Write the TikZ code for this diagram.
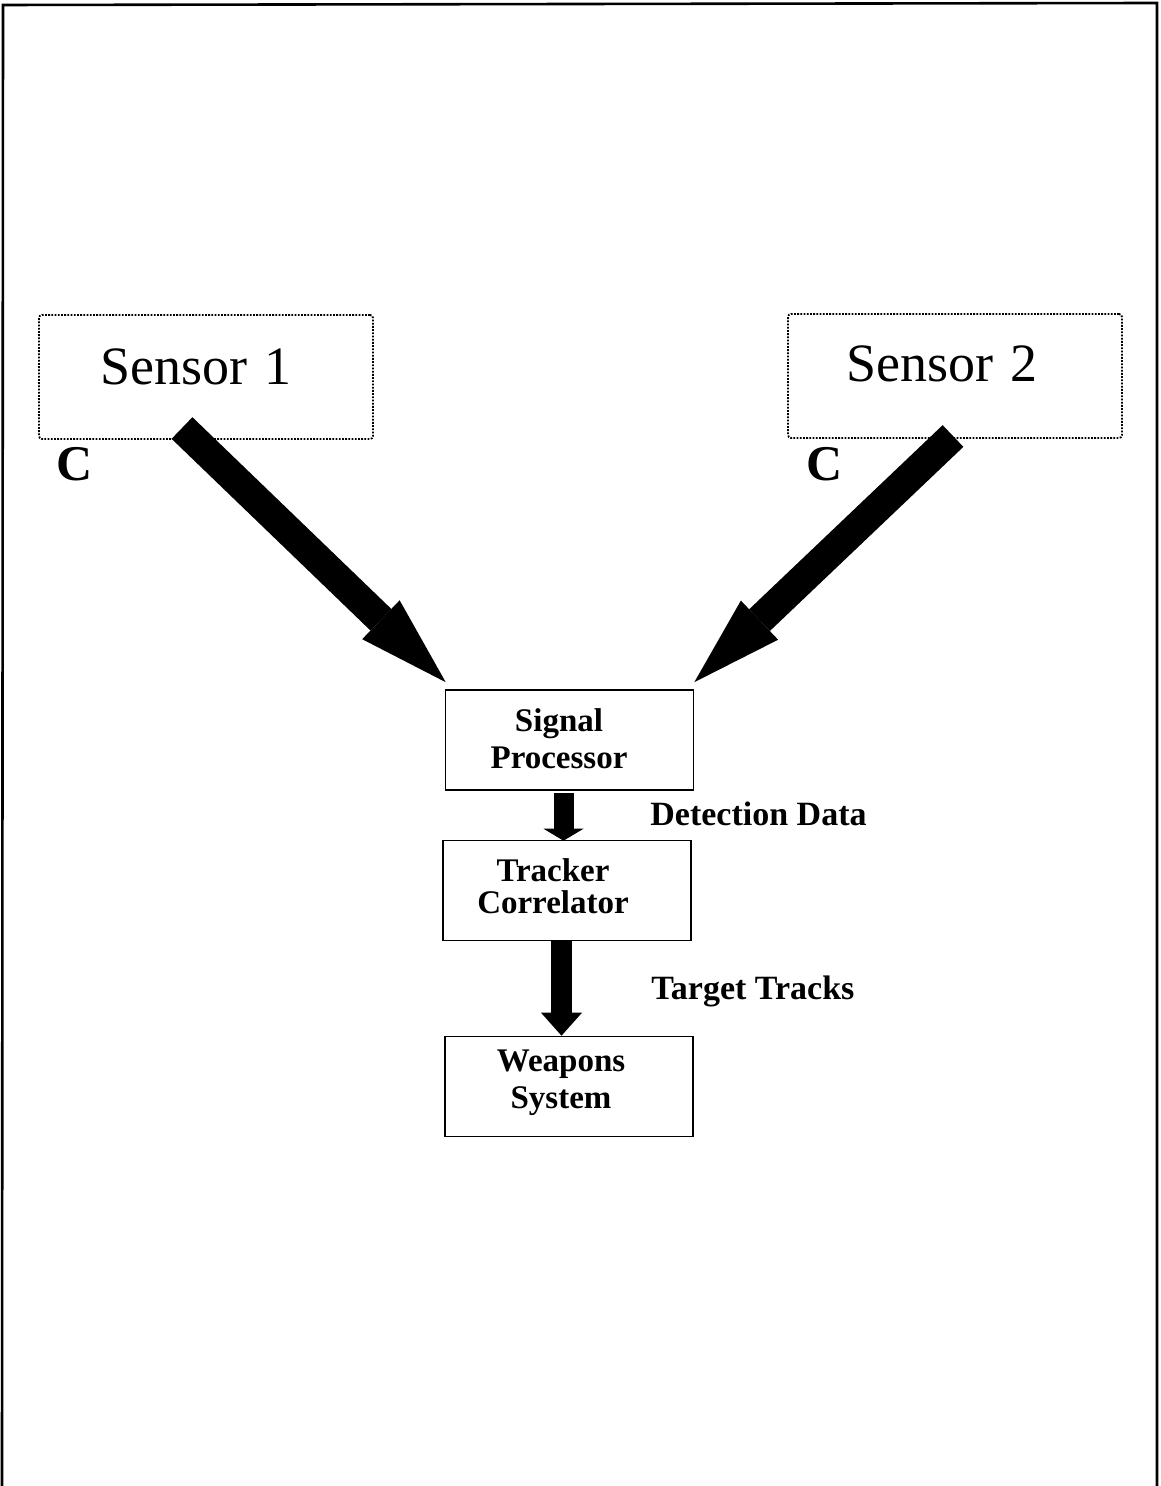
\documentclass[tikz,border=0pt]{standalone}
\usepackage{fontspec}
\setmainfont{Liberation Serif}
\usetikzlibrary{arrows.meta}

\begin{document}
\begin{tikzpicture}[x=0.5pt, y=-0.5pt,
  sensorbox/.style={draw, line width=0.9pt, dash pattern=on 0.9pt off 0.7pt,
    rounded corners=1.5pt, minimum width=167pt, minimum height=62pt, inner sep=0pt},
  stagebox/.style={draw, line width=0.8pt, minimum width=124pt, minimum height=50pt, inner sep=0pt},
  sensortext/.style={font=\fontsize{27}{30}\selectfont, anchor=base, inner sep=0pt},
  cmark/.style={font=\fontsize{25}{27}\selectfont\bfseries, inner sep=0pt},
  stagetext/.style={font=\fontsize{16.5}{18.5}\selectfont\bfseries, align=center, inner sep=0pt},
  flowtext/.style={font=\fontsize{17}{19}\selectfont\bfseries, anchor=base west, inner sep=0pt},
  bigarrow/.style={line width=15pt, -{Triangle[length=45pt, width=27pt, line width=0pt]}},
  smallarrow/.style={line width=10pt, -{Triangle[length=6pt, width=20pt, line width=0pt]}},
  midarrow/.style={line width=10.5pt, -{Triangle[length=11.5pt, width=20.5pt, line width=0pt]}}
]
\useasboundingbox (0,0) rectangle (1160,1486);

% page frame
\draw[line width=1.3pt] (2,1486) -- (3,5) -- (1157,3) -- (1157,1486);

% sensors
\node[sensorbox] (s1) at (206,377) {};
\node[sensorbox] (s2) at (955,376) {};
\node[sensortext] (s1lbl) at (196,385) {Sensor\hspace{9pt}1};
\node[sensortext] (s2lbl) at (942,382) {Sensor\hspace{8.5pt}2};
\node[cmark] (c1) at (75,464) {C};
\node[cmark] (c2) at (825,464) {C};

% processing chain
\node[stagebox] (sp) at (569.5,740) {};
\node[stagetext] (sptxt) at (559,739) {Signal\\Processor};
\node[stagebox] (tc) at (567,890.5) {};
\node[stagetext] (tctxt) at (553,886) {Tracker\\[-2.5pt]Correlator};
\node[stagebox] (ws) at (569,1086.5) {};
\node[stagetext] (wstxt) at (561,1083) {Weapons\\System};

\node[flowtext] (det) at (650,825) {Detection Data};
\node[flowtext] (trk) at (651,999) {Target Tracks};

% sensor feeds
\coordinate (t1) at (182,428);
\coordinate (t2) at (953,436);
\draw[bigarrow] (t1) -- ([shift={(1,-7)}]sp.north west);
\draw[bigarrow] (t2) -- ([shift={(0,-7)}]sp.north east);

% data flow between stages
\draw[smallarrow] ([shift={(-6,2)}]sp.south) -- ([shift={(-3.5,1)}]tc.north);
\draw[midarrow] ([xshift=-2.75pt]tc.south) -- ([xshift=-3.75pt]ws.north);
\end{tikzpicture}
\end{document}
